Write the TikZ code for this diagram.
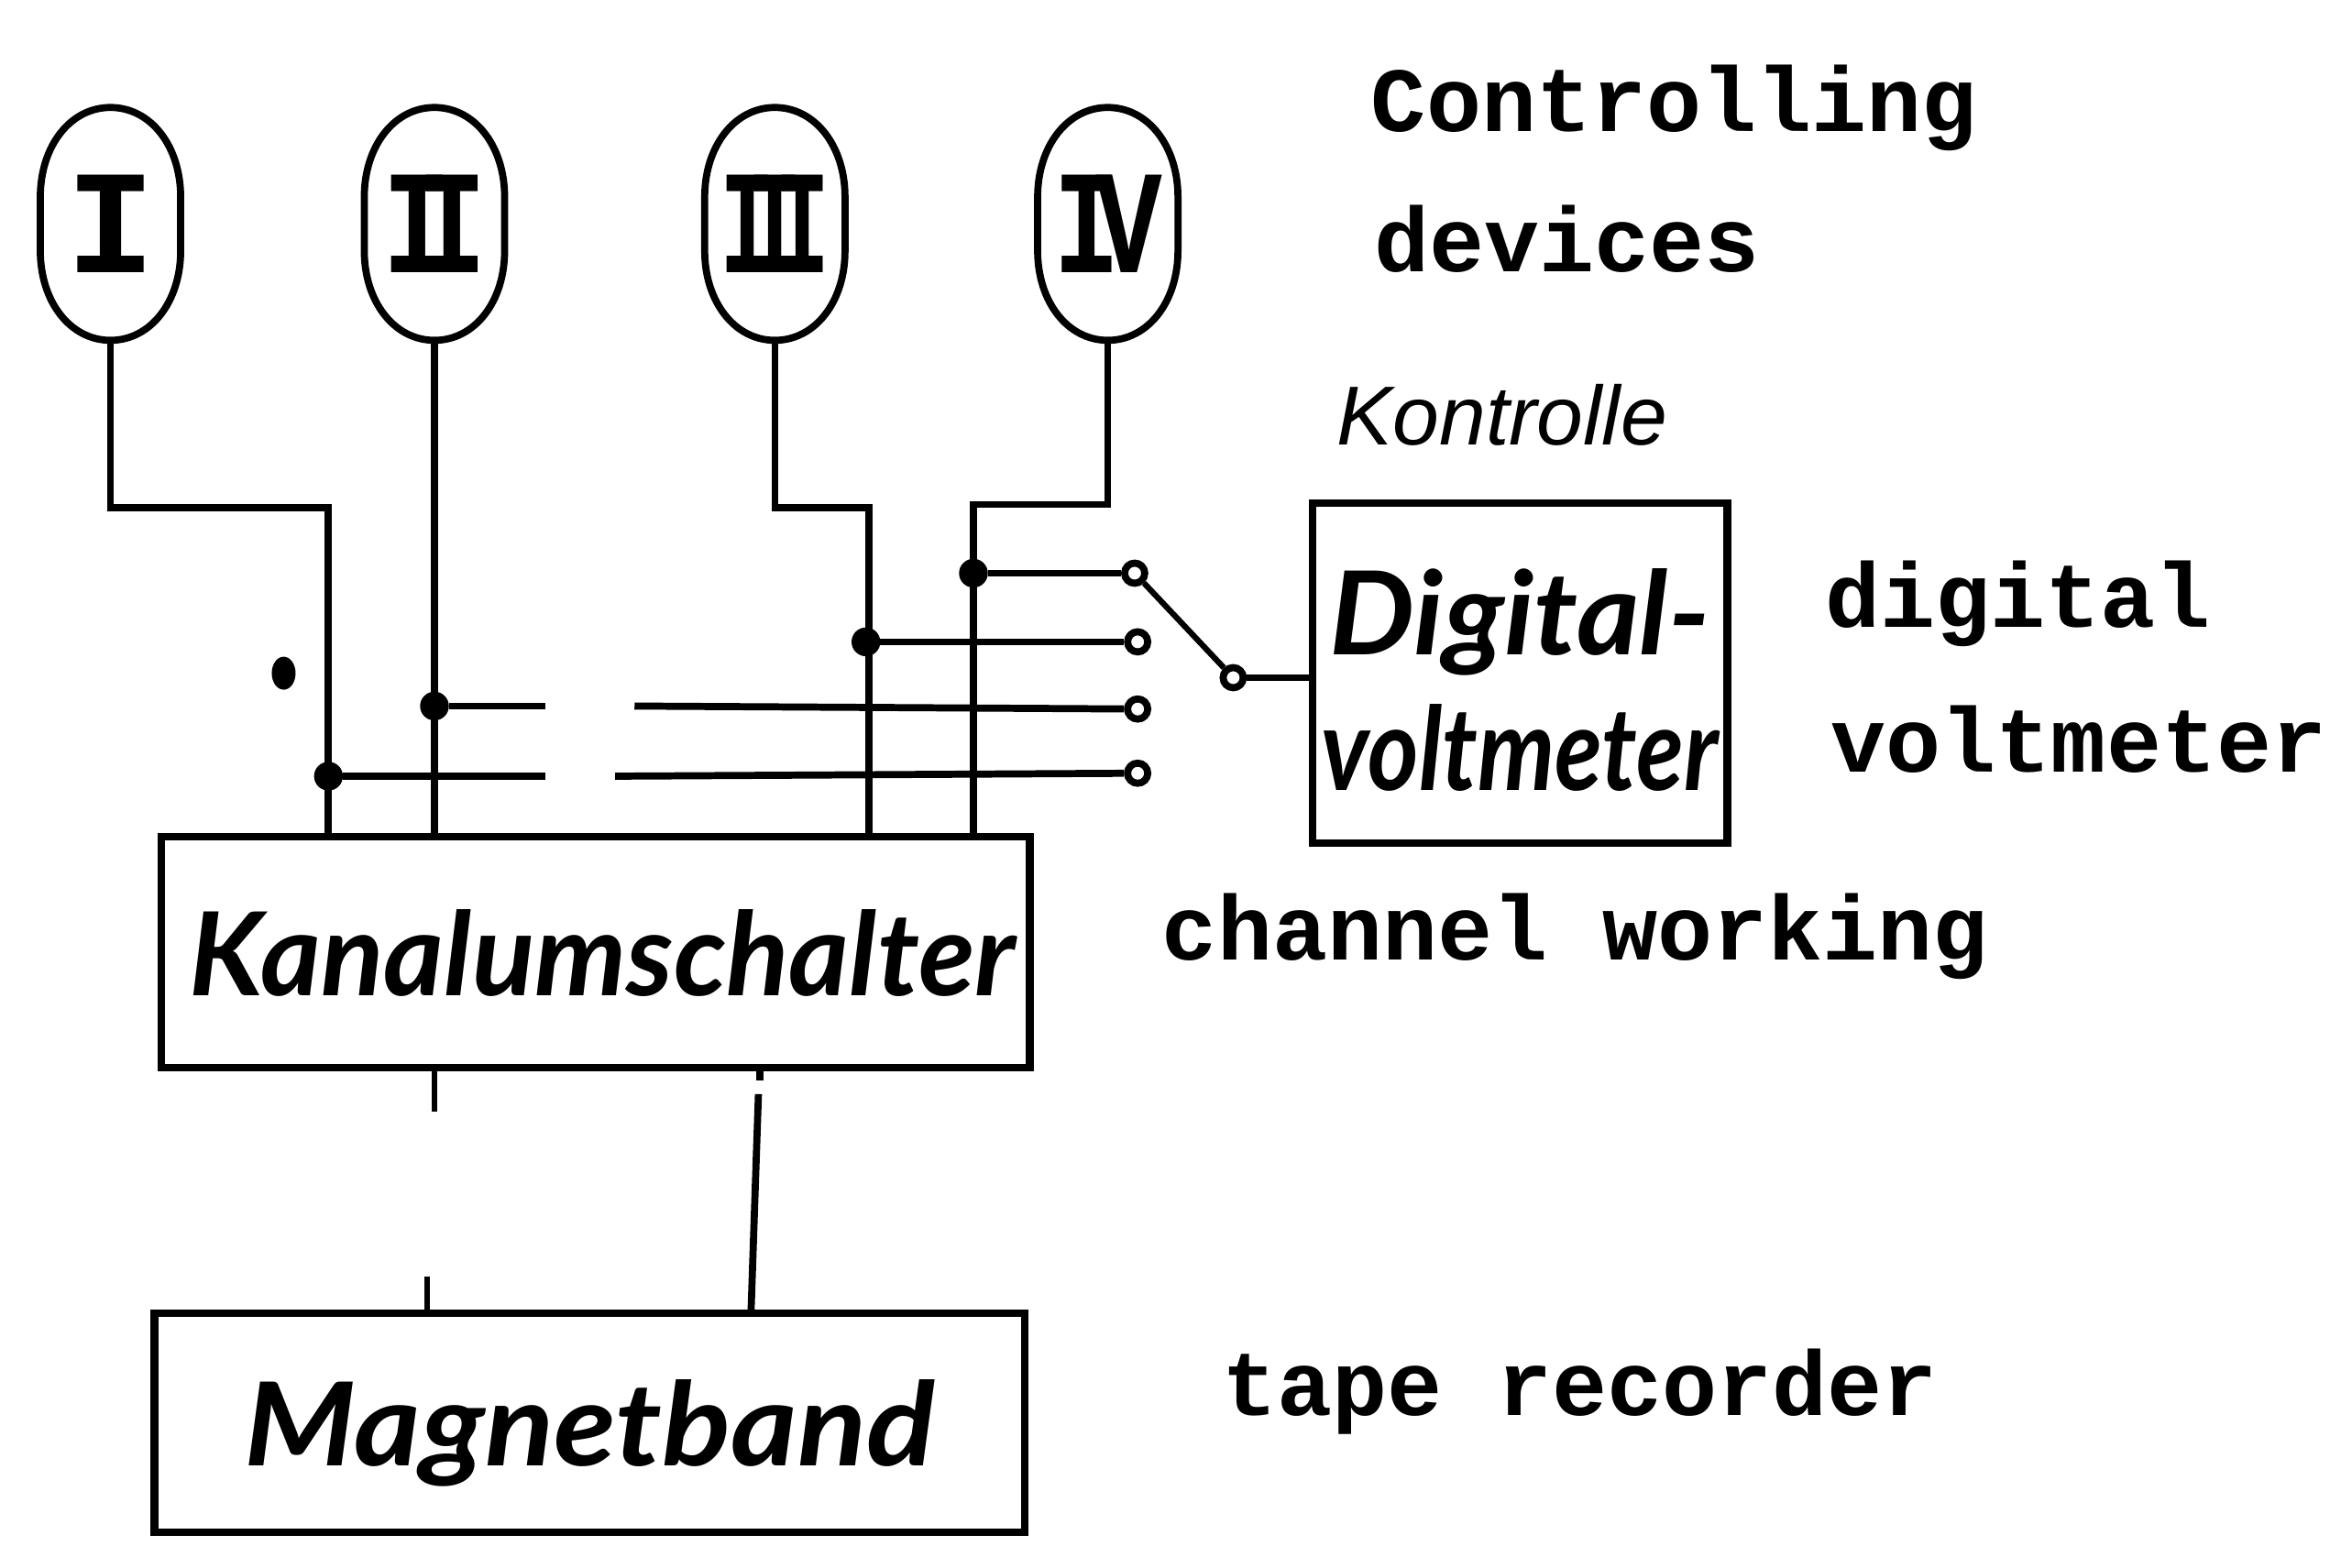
\documentclass[tikz,border=0pt]{standalone}
\usepackage{fontspec}
\usetikzlibrary{shapes.geometric}
\setmainfont{Liberation Sans}
\newfontfamily\typedfont{Liberation Mono}[BoldFont={Liberation Mono Bold}]
\newfontfamily\drawnfont{Lato}
\tikzset{
	wire/.style={line width=2.2pt},
	thinwire/.style={line width=1.8pt},
	box/.style={draw, line width=2.4pt, inner sep=0pt, font=\drawnfont\bfseries\itshape},
	tube/.style={minimum width=1.56cm, minimum height=2.54cm, inner sep=0pt, font=\typedfont\bfseries\fontsize{46}{46}\selectfont},
	typed/.style={anchor=base west, inner sep=0pt, font=\typedfont\bfseries\fontsize{28.5}{30}\selectfont},
	junction/.style={circle, fill=black, draw, minimum size=0.3cm, inner sep=0pt},
	contact/.style={circle, fill=white, draw, line width=2.2pt, minimum size=0.22cm, inner sep=0pt}
}
\begin{document}
\begin{tikzpicture}[x=0.01629cm, y=-0.01629cm]
	\useasboundingbox (0,0) rectangle (1568,1050);

	% controlling devices
	\node [tube] (tubeI) at (74,150) {I};
	\node [tube] (tubeII) at (291,150) {\scalebox{0.78}[1]{I\kern-0.3em I}};
	\node [tube] (tubeIII) at (519,150) {\scalebox{0.62}[1]{I\kern-0.3em I\kern-0.3em I}};
	\node [tube] (tubeIV) at (742,150) {\scalebox{0.75}[1]{I\kern-0.22em V}};
	\foreach \tubename in {tubeI,tubeII,tubeIII,tubeIV}
		\draw [wire, shift={(\tubename.center)}] (0,-78) .. controls (-27,-78) and (-47,-52) .. (-47,-18) -- (-47,18) .. controls (-47,52) and (-27,78) .. (0,78) .. controls (27,78) and (47,52) .. (47,18) -- (47,-18) .. controls (47,-52) and (27,-78) .. cycle;

	% boxes
	\node [box, minimum width=9.48cm, minimum height=2.52cm, text depth=0pt] (kanal) at (399,638) {\fontsize{36}{36}\selectfont\hspace{0.15cm}Kanalumschalter};
	\node [box, minimum width=4.53cm, minimum height=3.71cm, align=center] (digital) at (1018,451) {\fontsize{36}{42.5}\selectfont\rule{0pt}{31pt}\scalebox{1.04}[1]{Digital-}\\[8pt] \fontsize{36}{42.5}\selectfont\scalebox{0.84}[1]{voltmeter}};
	\node [box, minimum width=9.5cm, minimum height=2.39cm, text depth=0pt] (magnet) at (395,953) {\fontsize{36}{36}\selectfont\scalebox{1.1}[1]{Magnetband}};

	% bends and ends of the wires
	\coordinate (kanalA) at (220,560);
	\coordinate (kanalB) at (291,560);
	\coordinate (kanalC) at (582,560);
	\coordinate (kanalD) at (652,560);
	\coordinate (bendA) at (220,340);
	\coordinate (bendC) at (582,340);
	\coordinate (bendD) at (652,338);
	\coordinate (stubA) at (291,715);
	\coordinate (stubB) at (291,745);
	\coordinate (stubC) at (286,855);
	\coordinate (stubD) at (286,880);
	\coordinate (tapeA) at (508,733);
	\coordinate (tapeB) at (503,880);
	\coordinate (tapeC) at (509,715);
	\coordinate (tapeD) at (509,724);
	\coordinate (gapA) at (365,473);
	\coordinate (gapB) at (425,473);
	\coordinate (gapC) at (365,520);
	\coordinate (gapD) at (412,520);

	% contacts
	\node [junction] (jD) at (652,384) {};
	\node [junction] (jC) at (580,430) {};
	\node [junction] (jB) at (291,473) {};
	\node [junction] (jA) at (220,520) {};
	\node [contact] (contactA) at (760,384) {};
	\node [contact] (contactB) at (762,430) {};
	\node [contact] (contactC) at (762,475) {};
	\node [contact] (contactD) at (762,518) {};
	\node [contact] (wiper) at (826,454) {};

	% wires
	\draw [wire] (tubeI.south) |- (bendA) -- (kanalA);
	\draw [wire] (tubeII.south) -- (kanalB);
	\draw [wire] (tubeIII.south) |- (bendC) -- (kanalC);
	\draw [wire] (tubeIV.south) |- (bendD) -- (kanalD);

	\draw [wire] (jD) -- (contactA);
	\draw [wire] (jC) -- (contactB);
	\draw [wire] (jB) -- (gapA);
	\draw [wire] (gapB) -- (contactC);
	\draw [wire] (jA) -- (gapC);
	\draw [wire] (gapD) -- (contactD);
	\draw [thinwire] (contactA) -- (wiper);
	\draw [thinwire] (wiper) -- (digital.west |- wiper);

	\draw [thinwire] (stubA) -- (stubB);
	\draw [thinwire] (stubC) -- (stubD);
	\draw [wire] (tapeC) -- (tapeD);
	\draw [wire] (tapeA) -- (tapeB);

	% blot left of the wires
	\node [ellipse, fill=black, minimum width=0.26cm, minimum height=0.36cm, inner sep=0pt] (blot) at (190,451) {};

	% labels
	\node [typed] (controlling) at (918,88) {Controlling};
	\node [typed] (devices) at (920,182) {devices};
	\node [typed] (digitalEn) at (1222,420) {digital};
	\node [typed] (voltmeterEn) at (1226,517) {voltmeter};
	\node [typed] (channel) at (778,643) {channel working};
	\node [typed] (tape) at (818,948) {tape recorder};
	\node [anchor=base west, inner sep=0pt, font=\itshape\fontsize{26}{26}\selectfont] (kontrolle) at (895,298) {Kontrolle};
\end{tikzpicture}
\end{document}
